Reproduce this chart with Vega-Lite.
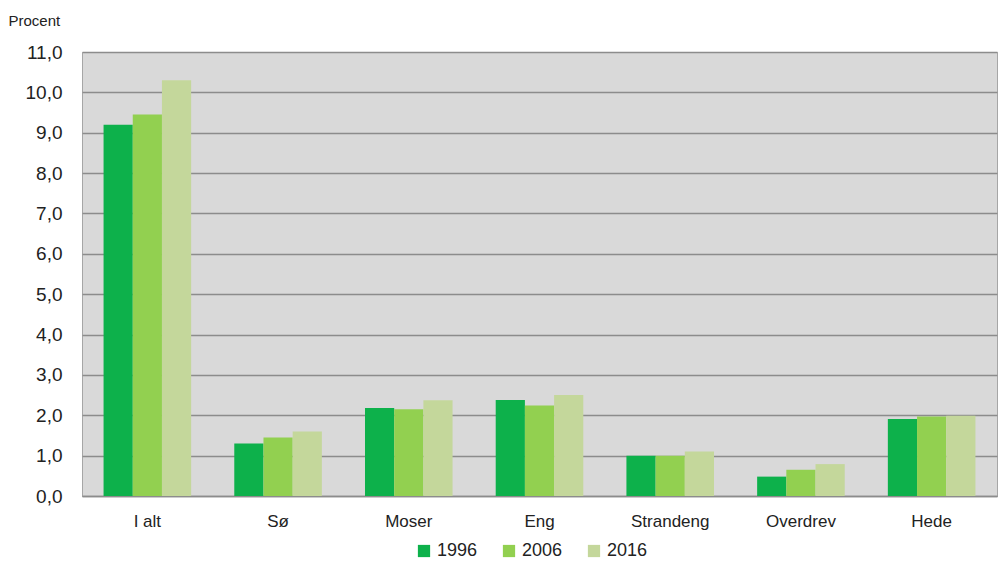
{
  "$schema": "https://vega.github.io/schema/vega-lite/v6.json",
  "autosize": {"type": "none"},
  "width": 915,
  "height": 444,
  "padding": {"left": 82, "top": 52, "right": 2, "bottom": 75},
  "background": "white",
  "config": {
    "font": "Liberation Sans",
    "view": {"fill": "#d9d9d9", "stroke": "#a6a6a6", "strokeWidth": 1}
  },
  "data": {
    "values": [
      {"type": "I alt", "year": "1996", "value": 9.2},
      {"type": "I alt", "year": "2006", "value": 9.45},
      {"type": "I alt", "year": "2016", "value": 10.3},
      {"type": "Sø", "year": "1996", "value": 1.3},
      {"type": "Sø", "year": "2006", "value": 1.45},
      {"type": "Sø", "year": "2016", "value": 1.6},
      {"type": "Moser", "year": "1996", "value": 2.18},
      {"type": "Moser", "year": "2006", "value": 2.15},
      {"type": "Moser", "year": "2016", "value": 2.37},
      {"type": "Eng", "year": "1996", "value": 2.38},
      {"type": "Eng", "year": "2006", "value": 2.24},
      {"type": "Eng", "year": "2016", "value": 2.5},
      {"type": "Strandeng", "year": "1996", "value": 1.0},
      {"type": "Strandeng", "year": "2006", "value": 1.0},
      {"type": "Strandeng", "year": "2016", "value": 1.1},
      {"type": "Overdrev", "year": "1996", "value": 0.48},
      {"type": "Overdrev", "year": "2006", "value": 0.65},
      {"type": "Overdrev", "year": "2016", "value": 0.79},
      {"type": "Hede", "year": "1996", "value": 1.91},
      {"type": "Hede", "year": "2006", "value": 1.97},
      {"type": "Hede", "year": "2016", "value": 1.99}
    ]
  },
  "mark": {"type": "bar"},
  "encoding": {
    "x": {
      "field": "type",
      "type": "nominal",
      "sort": ["I alt", "Sø", "Moser", "Eng", "Strandeng", "Overdrev", "Hede"],
      "scale": {"paddingInner": 0.33, "paddingOuter": 0.165},
      "axis": {
        "title": null,
        "labelAngle": 0,
        "labelFontSize": 17,
        "labelColor": "#222",
        "labelPadding": 17,
        "ticks": false,
        "domainColor": "#8c8c8c",
        "domainWidth": 1.5
      }
    },
    "xOffset": {"field": "year", "type": "nominal", "scale": {"paddingInner": 0, "paddingOuter": 0}},
    "y": {
      "field": "value",
      "type": "quantitative",
      "scale": {"domain": [0, 11], "nice": false},
      "axis": {
        "title": "Procent",
        "titleAngle": 0,
        "titleX": -74,
        "titleY": -32,
        "titleAlign": "left",
        "titleBaseline": "middle",
        "titleFontSize": 15,
        "titleFontWeight": "normal",
        "titleColor": "#222",
        "values": [0, 1, 2, 3, 4, 5, 6, 7, 8, 9, 10, 11],
        "labelExpr": "replace(format(datum.value, '.1f'), '.', ',')",
        "labelFontSize": 19,
        "labelColor": "#222",
        "labelPadding": 20,
        "ticks": false,
        "domain": false,
        "gridColor": "#8c8c8c",
        "gridWidth": 1.5
      }
    },
    "color": {
      "field": "year",
      "type": "nominal",
      "scale": {"domain": ["1996", "2006", "2016"], "range": ["#0db14b", "#92d050", "#c4d79b"]},
      "legend": {
        "title": null,
        "orient": "none",
        "direction": "horizontal",
        "legendX": 333,
        "legendY": 490,
        "symbolType": "square",
        "symbolSize": 150,
        "symbolStrokeWidth": 0,
        "labelFontSize": 18,
        "labelColor": "#222",
        "columnPadding": 22,
        "labelOffset": 4
      }
    }
  }
}
